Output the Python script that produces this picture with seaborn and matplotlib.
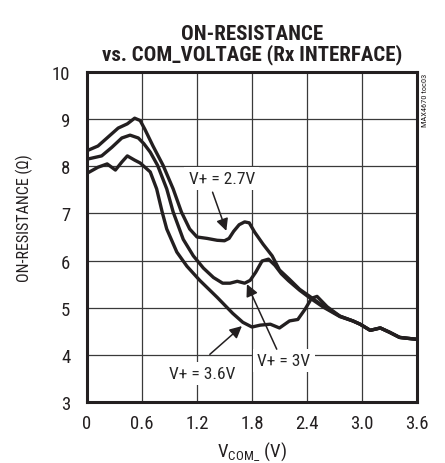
import numpy as np
import pandas as pd
import matplotlib
matplotlib.use("Agg")
import matplotlib.pyplot as plt
from matplotlib import font_manager
import seaborn as sns

# curves (V_COM in V, R_ON in ohms)
v_27 = [0, 0.12, 0.23, 0.34, 0.44, 0.52, 0.58, 0.63, 0.72, 0.83, 0.94, 1.03, 1.12, 1.2,
        1.31, 1.42, 1.5, 1.55, 1.6, 1.66, 1.72, 1.77, 1.83, 1.92, 2.02, 2.1, 2.21, 2.32,
        2.43, 2.58, 2.76]
r_27 = [8.33, 8.43, 8.62, 8.81, 8.9, 9.02, 8.97, 8.79, 8.43, 8.02, 7.52, 7.03, 6.67, 6.5,
        6.47, 6.43, 6.42, 6.47, 6.62, 6.76, 6.82, 6.8, 6.6, 6.35, 6.1, 5.8, 5.6, 5.39,
        5.24, 5.03, 4.82]

v_3 = [0, 0.16, 0.27, 0.38, 0.47, 0.56, 0.62, 0.69, 0.77, 0.87, 0.94, 1.05, 1.16, 1.27,
       1.38, 1.48, 1.56, 1.64, 1.72, 1.78, 1.84, 1.91, 1.98, 2.05, 2.12, 2.2, 2.32, 2.43,
       2.58, 2.76]
r_3 = [8.15, 8.22, 8.4, 8.6, 8.66, 8.6, 8.48, 8.3, 8.02, 7.52, 7.03, 6.45, 6.1, 5.84,
       5.64, 5.52, 5.52, 5.56, 5.52, 5.58, 5.75, 5.99, 6.03, 5.9, 5.72, 5.57, 5.37, 5.21,
       5.01, 4.81]

v_36 = [0, 0.12, 0.22, 0.31, 0.38, 0.44, 0.52, 0.58, 0.69, 0.76, 0.82, 0.87, 0.98, 1.09,
        1.23, 1.42, 1.59, 1.7, 1.8, 1.89, 2.0, 2.1, 2.21, 2.3, 2.38, 2.45, 2.51, 2.62, 2.76]
r_36 = [7.85, 7.98, 8.05, 7.92, 8.09, 8.22, 8.13, 8.07, 7.88, 7.52, 7.03, 6.67, 6.18, 5.88,
        5.58, 5.22, 4.88, 4.69, 4.59, 4.63, 4.65, 4.57, 4.72, 4.75, 4.97, 5.2, 5.24, 5.02, 4.82]

# all three curves run together above ~2.8V
v_tail = [2.9, 2.98, 3.09, 3.2, 3.3, 3.41, 3.5, 3.6]
r_tail = [4.72, 4.65, 4.52, 4.57, 4.48, 4.37, 4.35, 4.33]

supplies = ["2.7V", "3V", "3.6V"]

frames = []
for s, v, r in zip(supplies, [v_27, v_3, v_36], [r_27, r_3, r_36]):
    frames.append(pd.DataFrame({"v": v + v_tail, "r": r + r_tail, "supply": s}))
df = pd.concat(frames, ignore_index=True)

# pick a narrow face if there is one
have = {f.name for f in font_manager.fontManager.ttflist}
narrow = [f for f in ['Liberation Sans Narrow', 'Roboto Condensed', 'DejaVu Sans Condensed',
                      'Liberation Sans', 'Roboto'] if f in have]
font = narrow[0] if narrow else 'DejaVu Sans'

sns.set_style("white")
plt.rcParams['font.family'] = [font, 'DejaVu Sans']
plt.rcParams['mathtext.fontset'] = 'custom'
plt.rcParams['mathtext.rm'] = font

fig = plt.figure(figsize=(4.45, 4.64), dpi=100)
ax = fig.add_axes([0.1955, 0.1315, 0.7415, 0.7112])

sns.lineplot(data=df, x="v", y="r", hue="supply", palette=["#231f20"] * 3,
             estimator=None, sort=False, legend=False, linewidth=2.4, ax=ax, zorder=4)

ax.set_xlim(0, 3.6)
ax.set_ylim(3, 10)
ax.set_xticks([0, 0.6, 1.2, 1.8, 2.4, 3.0, 3.6])
ax.set_xticklabels(["0", "0.6", "1.2", "1.8", "2.4", "3.0", "3.6"])
ax.set_yticks(range(3, 11))
ax.tick_params(length=0, labelsize=13.5, colors="#231f20")
ax.tick_params(axis="y", pad=12)
ax.tick_params(axis="x", pad=9)
ax.grid(True, color="#3a3a3a", linewidth=0.9)
ax.set_axisbelow(True)
for sp in ax.spines.values():
    sp.set_linewidth(2.2)
    sp.set_color("#231f20")

ax.set_xlabel(r"V$_{\mathrm{COM}}$$_{\_}$ (V)", fontsize=13.5, labelpad=5, color="#231f20")
ax.set_ylabel("ON-RESISTANCE (Ω)", fontsize=11.5, color="#231f20")
ax.yaxis.set_label_coords(-0.165, 0.56)
ax.set_title("ON-RESISTANCE\nvs. COM_VOLTAGE (Rx INTERFACE)", fontsize=15,
             fontweight="bold", pad=9, linespacing=1.05, color="#231f20")

box = dict(facecolor="white", edgecolor="none", pad=3)
ax.text(1.47, 7.74, "V+ = 2.7V", ha="center", va="center", fontsize=12.5, bbox=box, zorder=3)
ax.text(2.15, 3.88, "V+ = 3V", ha="center", va="center", fontsize=12.5, bbox=box, zorder=3)
ax.text(1.26, 3.61, "V+ = 3.6V", ha="center", va="center", fontsize=12.5, bbox=box, zorder=3)

arrow = dict(arrowstyle="-|>", color="#231f20", lw=1.1, mutation_scale=18, shrinkA=0, shrinkB=0)
ax.annotate("", xy=(1.52, 6.63), xytext=(1.37, 7.45), arrowprops=arrow, zorder=5)
ax.annotate("", xy=(1.745, 5.5), xytext=(2.07, 4.12), arrowprops=arrow, zorder=5)
ax.annotate("", xy=(1.69, 4.61), xytext=(1.34, 4.01), arrowprops=arrow, zorder=5)

fig.text(0.955, 0.84, "MAX4670 toc03", rotation=90, ha="center", va="top", fontsize=6,
         color="#231f20")

fig.savefig("out.png", dpi=100)
